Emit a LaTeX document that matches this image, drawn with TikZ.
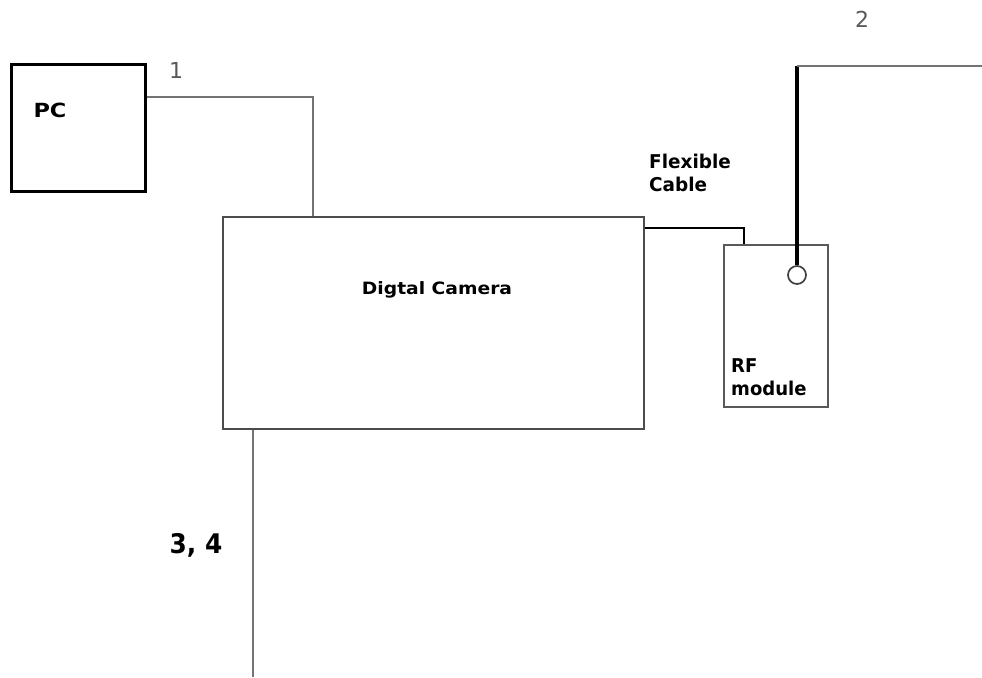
\documentclass[tikz,border=0pt]{standalone}
\usepackage{fontspec}
\setmainfont{DejaVu Sans}
\begin{document}
\begin{tikzpicture}[x=1pt,y=-1pt,
  box/.style={draw, inner sep=0pt, anchor=center},
  wire/.style={draw=black!55, line width=2.5pt},
  lbl/.style={inner sep=0pt, font=\bfseries\fontsize{19}{23}\selectfont, align=left},
  num/.style={inner sep=0pt, text=black!65, font=\fontsize{22}{24}\selectfont}]
\useasboundingbox[fill=white] (0,0) rectangle (982,677);
% boxes
\node[box, line width=3.6pt, minimum width=134pt, minimum height=127pt] (pc) at (78.5,128) {};
\node[box, draw=black!70, line width=1.9pt, minimum width=421pt, minimum height=212pt] (cam) at (433.5,323) {};
\node[box, draw=black!65, line width=1.7pt, minimum width=104pt, minimum height=162pt] (rf) at (776,326) {};
\node[circle, draw=black!75, line width=1.7pt, minimum size=18pt, inner sep=0pt] (ant) at (797,275) {};
% texts
\node[lbl, font=\bfseries\fontsize{19.5}{23}\selectfont] (pct) at (50,110) {\scalebox{1.15}[1]{PC}};
\node[lbl, font=\bfseries\fontsize{17}{18}\selectfont] (camt) at (437,290) {\scalebox{1.1}[1]{Digtal Camera}};
\node[lbl, anchor=base west] (rft) at (731,395) {\scalebox{0.95}[1]{RF}\\\scalebox{0.95}[1]{module}};
\node[lbl, anchor=base west] (flex) at (649,191) {\scalebox{0.97}[1]{Flexible}\\\scalebox{0.97}[1]{Cable}};
\node[num] (n1) at (176,70) {1};
\node[num] (n2) at (862,19) {2};
\node[inner sep=0pt, font=\bfseries\fontsize{27}{28}\selectfont] (n34) at (196,545) {\scalebox{0.92}[1]{3, 4}};
% connectors
\coordinate (c1) at (313,97);
\draw[wire] (pc.east |- c1) -- (c1) -- (c1 |- cam.north);
\coordinate (c2) at (744,228);
\draw[black, line width=1.5pt] (cam.east |- c2) -- (c2) -- (c2 |- rf.north);
\coordinate (c3) at (797,66);
\coordinate (e2) at (982,66);
\draw[black, line width=3.3pt] (ant.north) -- (c3);
\draw[wire] (c3) -- (e2);
\coordinate (c4) at (253,677);
\draw[wire] (c4 |- cam.south) -- (c4);
\end{tikzpicture}
\end{document}
